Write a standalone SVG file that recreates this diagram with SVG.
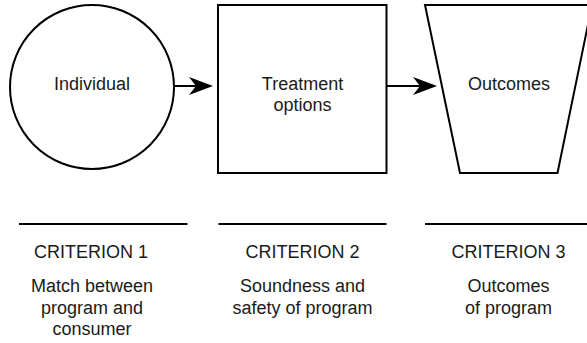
<svg xmlns="http://www.w3.org/2000/svg" width="587" height="343" viewBox="0 0 587 343">
  <style>
    .shape { fill: #ffffff; stroke: #000000; stroke-width: 2; }
    .conn { fill: none; stroke: #000000; stroke-width: 2; }
    .rule { fill: none; stroke: #000000; stroke-width: 2; }
    text { font-family: "Liberation Sans", Arial, Helvetica, sans-serif; font-size: 18px; fill: #1a1a1a; text-anchor: middle; }
  </style>
  <defs>
    <marker id="arrow" markerUnits="userSpaceOnUse" markerWidth="30" markerHeight="20" viewBox="-20 -10 30 20" refX="0" refY="0" orient="auto">
      <path d="M7,0 L-17,-9 L-10,0 L-17,9 Z" fill="#000000"/>
    </marker>
  </defs>
  <rect width="587" height="343" fill="#ffffff"/>

  <g id="node-individual">
    <circle class="shape" cx="92" cy="87" r="82"/>
    <text x="92" y="90">Individual</text>
  </g>

  <g id="node-treatment">
    <rect class="shape" x="218" y="5" width="168.5" height="168"/>
    <text x="302.5" y="90">Treatment</text>
    <text x="302.5" y="111">options</text>
  </g>

  <g id="node-outcomes">
    <polygon class="shape" points="425,5 592,5 557.5,173 460,173"/>
    <text x="509" y="90">Outcomes</text>
  </g>

  <g id="connectors">
    <line class="conn" x1="174" y1="86" x2="206" y2="86" marker-end="url(#arrow)"/>
    <line class="conn" x1="387" y1="86" x2="430" y2="86" marker-end="url(#arrow)"/>
  </g>

  <g id="criterion-1">
    <line class="rule" x1="19" y1="224" x2="187.5" y2="224"/>
    <text x="91" y="258">CRITERION 1</text>
    <text x="92" y="292">Match between</text>
    <text x="92" y="313.5">program and</text>
    <text x="92" y="335">consumer</text>
  </g>

  <g id="criterion-2">
    <line class="rule" x1="218.5" y1="224" x2="386.5" y2="224"/>
    <text x="302.5" y="258">CRITERION 2</text>
    <text x="302.5" y="292">Soundness and</text>
    <text x="302.5" y="313.5">safety of program</text>
  </g>

  <g id="criterion-3">
    <line class="rule" x1="425" y1="224" x2="587" y2="224"/>
    <text x="508.5" y="258">CRITERION 3</text>
    <text x="508.5" y="292">Outcomes</text>
    <text x="508.5" y="313.5">of program</text>
  </g>
</svg>
